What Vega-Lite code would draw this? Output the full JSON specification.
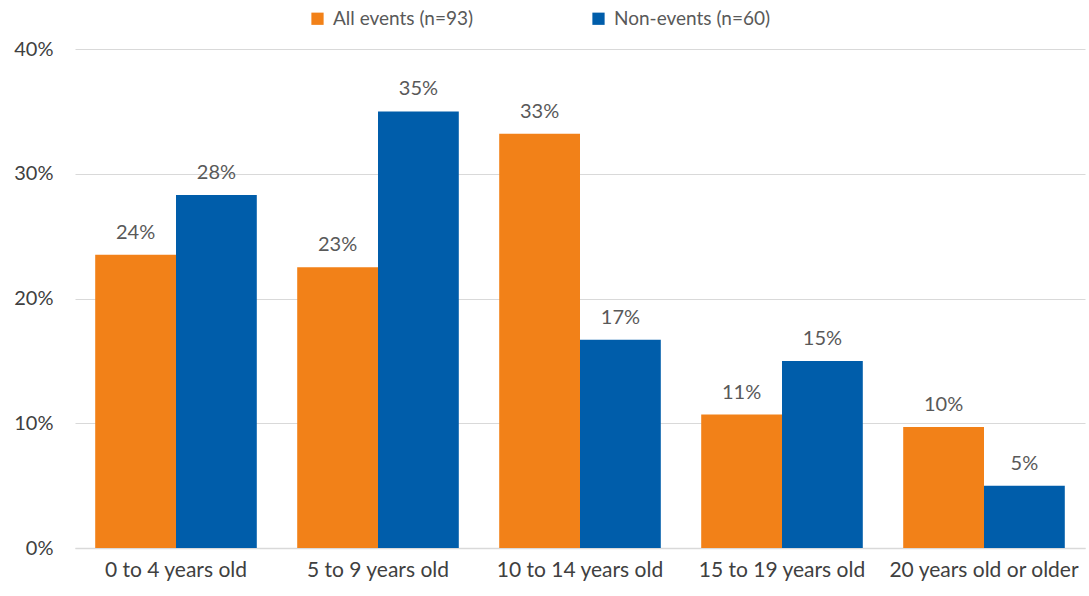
{
  "$schema": "https://vega.github.io/schema/vega-lite/v6.json",
  "width": 1010,
  "height": 499,
  "autosize": {"type": "none"},
  "padding": {"left": 75, "top": 49, "right": 4, "bottom": 48},
  "background": "white",
  "config": {
    "view": {"stroke": null},
    "font": "Lato"
  },
  "data": {
    "values": [
      {"age": "0 to 4 years old", "group": "All events (n=93)", "value": 0.235},
      {"age": "0 to 4 years old", "group": "Non-events (n=60)", "value": 0.283},
      {"age": "5 to 9 years old", "group": "All events (n=93)", "value": 0.225},
      {"age": "5 to 9 years old", "group": "Non-events (n=60)", "value": 0.35},
      {"age": "10 to 14 years old", "group": "All events (n=93)", "value": 0.332},
      {"age": "10 to 14 years old", "group": "Non-events (n=60)", "value": 0.167},
      {"age": "15 to 19 years old", "group": "All events (n=93)", "value": 0.107},
      {"age": "15 to 19 years old", "group": "Non-events (n=60)", "value": 0.15},
      {"age": "20 years old or older", "group": "All events (n=93)", "value": 0.097},
      {"age": "20 years old or older", "group": "Non-events (n=60)", "value": 0.05}
    ]
  },
  "encoding": {
    "x": {
      "field": "age", "type": "nominal", "sort": null, "title": null,
      "scale": {"paddingInner": 0.2, "paddingOuter": 0.1},
      "axis": {"labelAngle": 0, "labelFontSize": 21, "labelColor": "#404040", "labelPadding": 11, "ticks": false, "domainColor": "#D9D9D9", "domainWidth": 1.5, "labelOverlap": false, "labelLimit": 0}
    },
    "xOffset": {"field": "group", "type": "nominal", "sort": null},
    "y": {
      "field": "value", "type": "quantitative", "title": null,
      "scale": {"domain": [0, 0.4]},
      "axis": {"format": ".0%", "values": [0, 0.1, 0.2, 0.3, 0.4], "labelFontSize": 20, "labelColor": "#404040", "labelPadding": 22, "ticks": false, "domain": false, "gridColor": "#D9D9D9", "gridWidth": 1, "labelOverlap": false}
    }
  },
  "layer": [
    {
      "mark": {"type": "bar"},
      "encoding": {
        "color": {
          "field": "group", "type": "nominal", "sort": null,
          "scale": {"domain": ["All events (n=93)", "Non-events (n=60)"], "range": ["#F28118", "#005DAA"]},
          "legend": {
            "title": null, "orient": "none", "legendX": 233, "legendY": -40, "direction": "horizontal",
            "symbolType": "square", "symbolSize": 150, "symbolStrokeWidth": 0,
            "labelFontSize": 19, "labelColor": "#595959", "columnPadding": 115, "labelOffset": 6, "labelLimit": 0
          }
        }
      }
    },
    {
      "mark": {"type": "text", "baseline": "bottom", "dy": -12, "fontSize": 20, "color": "#595959"},
      "encoding": {
        "text": {"field": "value", "type": "quantitative", "format": ".0%"}
      }
    }
  ]
}
